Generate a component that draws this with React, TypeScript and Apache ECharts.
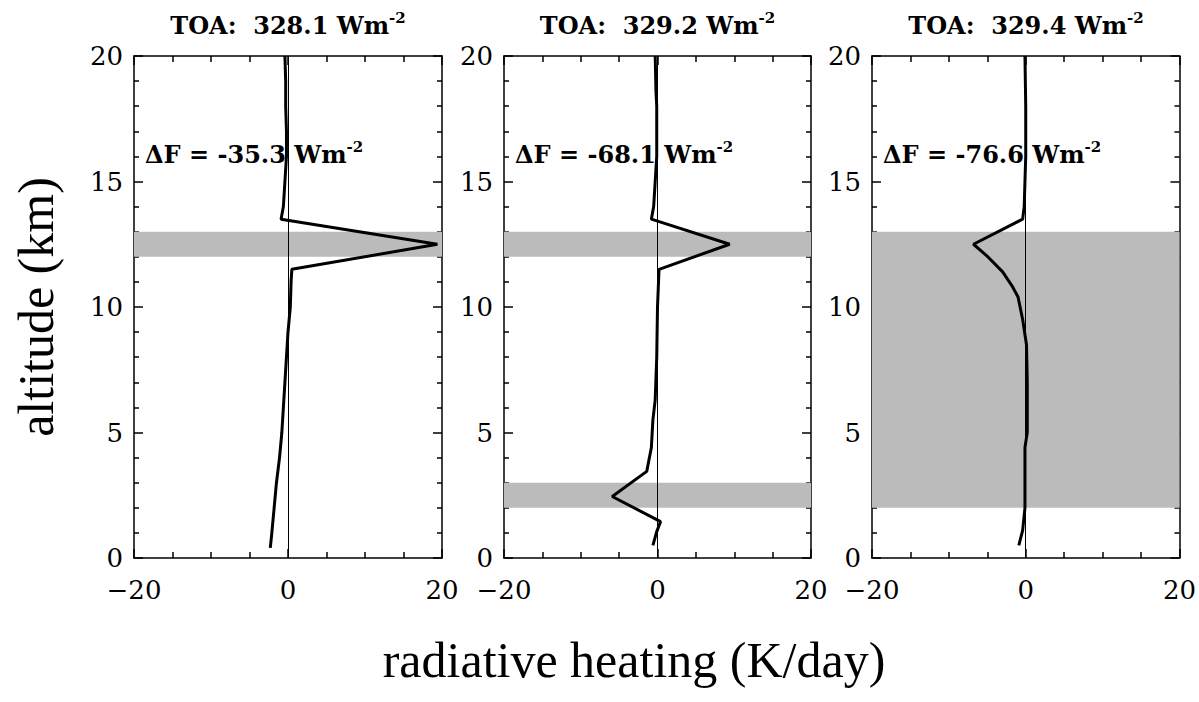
import React, { useEffect, useRef } from "react";
import * as echarts from "echarts";

// ---- data ----
const altitude1 = [0.4, 1, 2, 3, 4, 5, 6, 7, 8, 9, 10, 11, 11.5, 12.5, 13.5, 14, 15, 16, 17, 18, 19, 20];
const heating1 = [-2.3, -2.1, -1.8, -1.5, -1.1, -0.8, -0.6, -0.4, -0.2, 0.0, 0.3, 0.4, 0.5, 19.4, -0.9, -0.6, -0.4, -0.2, -0.2, -0.3, -0.3, -0.4];

const altitude2 = [0.5, 1.05, 1.45, 2.45, 3.45, 4.4, 5.5, 6.3, 8, 10, 11.5, 12.5, 13.5, 14, 16, 18, 18.6, 20];
const heating2 = [-0.6, -0.1, 0.4, -5.9, -1.4, -0.8, -0.6, -0.3, -0.1, 0.0, 0.2, 9.4, -0.8, -0.5, -0.1, -0.1, -0.2, -0.3];

const altitude3 = [0.5, 1.1, 2, 3, 4.4, 5, 7, 8.5, 9.5, 10.4, 10.8, 11.4, 12.05, 12.5, 13.5, 14, 16, 18, 20];
const heating3 = [-0.9, -0.4, -0.1, -0.1, -0.1, 0.2, 0.2, 0.1, -0.4, -1.0, -1.7, -3.0, -5.1, -6.8, -0.4, -0.2, 0.0, 0.0, -0.1];

const bands1 = [[12, 13]];
const bands2 = [[12, 13], [2, 3]];
const bands3 = [[2, 13]];

const toaValues = ["328.1", "329.2", "329.4"];
const deltaF = ["-35.3", "-68.1", "-76.6"];

const xTitle = "radiative heating (K/day)";
const yTitle = "altitude (km)";

const profiles = [
  { alt: altitude1, heat: heating1, bands: bands1 },
  { alt: altitude2, heat: heating2, bands: bands2 },
  { alt: altitude3, heat: heating3, bands: bands3 },
];

// ---- layout ----
const panelBoxes = [
  { left: 134, top: 56, width: 308, height: 502 },
  { left: 504, top: 56, width: 307, height: 502 },
  { left: 872, top: 56, width: 308, height: 502 },
];

const TICK_FONT = "DejaVu Serif";
const SERIF = "Liberation Serif";

function fmtX(v: number) {
  return v < 0 ? "\u2212" + Math.abs(v) : String(v);
}

export default function App() {
  const ref = useRef<HTMLDivElement>(null);

  useEffect(() => {
    if (!ref.current) return;
    const chart = echarts.init(ref.current, null, { renderer: "svg" });

    const grid: any[] = [];
    const xAxis: any[] = [];
    const yAxis: any[] = [];
    const series: any[] = [];
    const graphic: any[] = [];

    const axisLine = { show: true, onZero: false, lineStyle: { color: "#000", width: 1.5 } };
    const majorTick = { show: true, inside: true, length: 9, lineStyle: { color: "#000", width: 1.5 } };

    profiles.forEach((p, i) => {
      const b = panelBoxes[i];
      grid.push({ ...b, containLabel: false });
      const xBase = {
        type: "value", gridIndex: i, min: -20, max: 20, interval: 20,
        axisLine, splitLine: { show: false }, axisTick: majorTick,
        minorTick: { show: true, splitNumber: 4, length: 6, lineStyle: { color: "#000", width: 1.5 } },
      };
      const yBase = {
        type: "value", gridIndex: i, min: 0, max: 20, interval: 5,
        axisLine, splitLine: { show: false }, axisTick: majorTick,
        minorTick: { show: true, splitNumber: 5, length: 5, lineStyle: { color: "#000", width: 1.5 } },
      };
      xAxis.push({
        ...xBase, position: "bottom",
        axisLabel: { show: true, formatter: fmtX, fontFamily: TICK_FONT, fontSize: 26, color: "#000", margin: 19, showMinLabel: true, showMaxLabel: true },
      });
      xAxis.push({ ...xBase, position: "top", axisLabel: { show: false } });
      yAxis.push({
        ...yBase, position: "left",
        axisLabel: { show: true, fontFamily: TICK_FONT, fontSize: 26, color: "#000", margin: 11, showMinLabel: true, showMaxLabel: true },
      });
      yAxis.push({ ...yBase, position: "right", axisLabel: { show: false } });

      // gray bands
      series.push({
        type: "line", xAxisIndex: 2 * i, yAxisIndex: 2 * i, data: [], z: 1, silent: true,
        markArea: {
          silent: true,
          itemStyle: { color: "#bbbbbb" },
          label: { show: false },
          data: p.bands.map((bd) => [{ yAxis: bd[0] }, { yAxis: bd[1] }]),
        },
      });
      // zero line
      series.push({
        type: "line", xAxisIndex: 2 * i, yAxisIndex: 2 * i, data: [], z: 2, silent: true,
        markLine: {
          silent: true, symbol: "none", label: { show: false },
          lineStyle: { color: "#000", width: 1, type: "solid" },
          data: [{ xAxis: 0 }],
        },
      });
      // profile
      series.push({
        type: "line", xAxisIndex: 2 * i, yAxisIndex: 2 * i, z: 3,
        showSymbol: false, symbol: "none",
        lineStyle: { color: "#000", width: 3 },
        data: p.alt.map((a, k) => [p.heat[k], a]),
      });

      const cx = b.left + b.width / 2;
      const rich = {
        m: { fontFamily: TICK_FONT, fontSize: 24, fontWeight: "bold", fill: "#000", lineHeight: 30 },
        s: { fontFamily: TICK_FONT, fontSize: 15, fontWeight: "bold", fill: "#000", verticalAlign: "top", lineHeight: 16 },
      };
      graphic.push({
        type: "text", x: cx, y: 25,
        style: { text: `{m|TOA:  ${toaValues[i]} Wm}{s|-2}`, align: "center", verticalAlign: "middle", rich },
      });
      graphic.push({
        type: "text", x: b.left + 11, y: 154, z: 10,
        style: { text: `{m|\u0394F = ${deltaF[i]} Wm}{s|-2}`, align: "left", verticalAlign: "middle", rich },
      });
    });

    graphic.push({
      type: "text", x: 634, y: 660,
      style: { text: xTitle, fontFamily: SERIF, fontSize: 50, fill: "#000", align: "center", verticalAlign: "middle" },
    });
    graphic.push({
      type: "text", x: 36, y: 307, rotation: Math.PI / 2,
      style: { text: yTitle, fontFamily: SERIF, fontSize: 50, fill: "#000", align: "center", verticalAlign: "middle" },
    });

    chart.setOption({
      animation: false,
      backgroundColor: "#fff",
      grid, xAxis, yAxis, series, graphic,
    });

    return () => chart.dispose();
  }, []);

  return <div ref={ref} style={{ position: "fixed", left: 0, top: 0, width: 1199, height: 702 }} />;
}
